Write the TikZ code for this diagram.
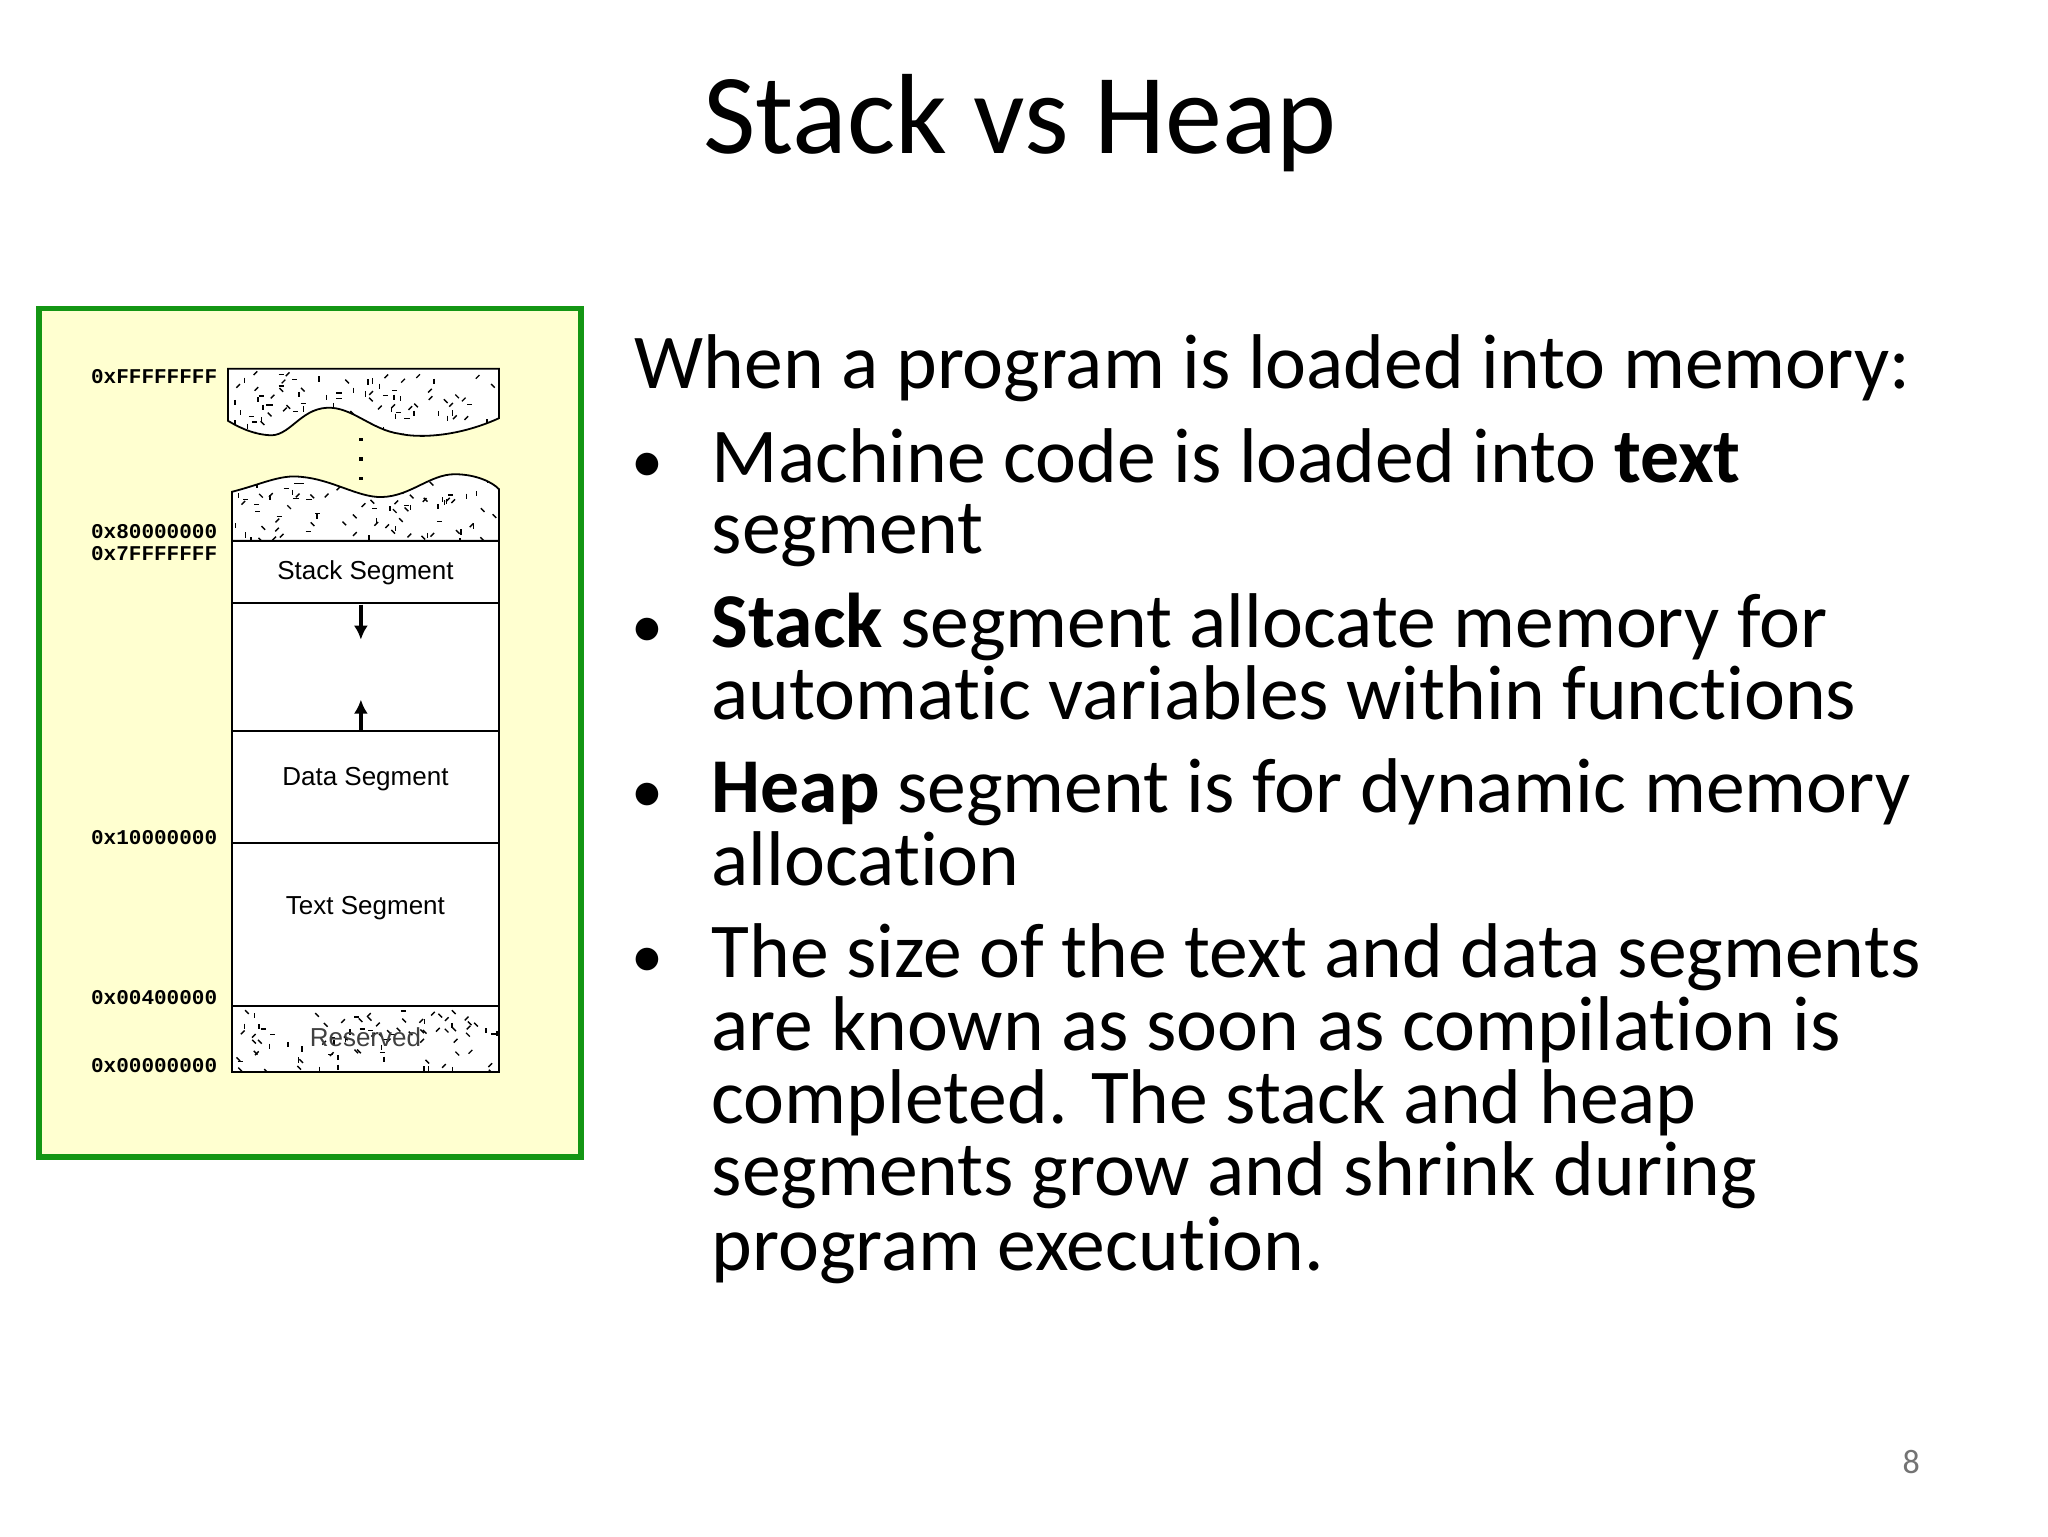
\documentclass[tikz,border=0pt]{standalone}
\usepackage{fontspec}
\usetikzlibrary{arrows.meta}
\setmainfont[Ligatures=NoCommon]{Carlito}
\newfontfamily\addrfont{Liberation Mono}
\newfontfamily\segfont{Liberation Sans}
\definecolor{frameg}{RGB}{20,150,20}
\definecolor{frameyel}{RGB}{255,255,208}
\tikzset{
  body/.style={anchor=base west,inner sep=0pt,font=\fontsize{38.8}{40}\selectfont},
  addr/.style={anchor=base east,inner sep=0pt,font=\addrfont\bfseries\fontsize{10.5}{11}\selectfont},
  seg/.style={inner sep=0pt,font=\segfont\fontsize{13}{13}\selectfont},
  speck/.style={line width=0.7pt},
}
\newcommand{\speckles}[4]{% x1 y1 x2 y2
  \pgfmathsetseed{#1#2}
  \foreach \k in {1,...,90}{
    \pgfmathsetmacro{\px}{#1+rnd*(#3-#1)}
    \pgfmathsetmacro{\py}{#2+rnd*(#4-#2)}
    \pgfmathsetmacro{\ang}{int(rnd*4)*45}
    \draw[speck] (\px,\py) -- ++(\ang:4);
  }}
\begin{document}
\begin{tikzpicture}[x=0.6514pt,y=-0.6514pt]
\useasboundingbox[fill=white] (0,0) rectangle (1572,1179);
\node[font=\fontsize{57}{57}\selectfont,anchor=base,inner sep=0pt] (title) at (783,118) {Stack vs Heap};
% frame
\draw[frameg,line width=2.6pt,fill=frameyel] (30,237) rectangle (446,888);
% top broken block
\begin{scope}
\path[clip] (175,283) -- (383,283) -- (383,321) .. controls (350,336) and (320,336) .. (307,333) .. controls (285,330) and (270,312) .. (251,313) .. controls (230,314) and (222,336) .. (206,334) .. controls (192,333) and (180,326) .. (175,323) -- cycle;
\fill[white] (170,280) rectangle (390,340);
\speckles{178}{285}{380}{335}
\end{scope}
\draw[line width=0.9pt] (175,283) -- (383,283) -- (383,321) .. controls (350,336) and (320,336) .. (307,333) .. controls (285,330) and (270,312) .. (251,313) .. controls (230,314) and (222,336) .. (206,334) .. controls (192,333) and (180,326) .. (175,323) -- cycle;
% dots
\foreach \yy in {336,351,366} \fill (275.5,\yy) rectangle (278.5,\yy+2.5);
% second block
\begin{scope}
\path[clip] (178,415) -- (178,377.5) .. controls (200,372) and (215,364) .. (231,366) .. controls (255,368) and (275,382) .. (293,381.5) .. controls (315,381) and (330,364) .. (349,364) .. controls (365,364) and (378,370) .. (383,375.5) -- (383,415) -- cycle;
\fill[white] (170,360) rectangle (390,420);
\speckles{180}{366}{381}{413}
\end{scope}
\draw[line width=0.9pt] (178,415) -- (178,377.5) .. controls (200,372) and (215,364) .. (231,366) .. controls (255,368) and (275,382) .. (293,381.5) .. controls (315,381) and (330,364) .. (349,364) .. controls (365,364) and (378,370) .. (383,375.5) -- (383,415) -- cycle;
% segments
\draw[line width=0.9pt,fill=white] (178,415) rectangle (383,463);
\node[seg] (stack) at (280.5,440) {Stack Segment};
\draw[line width=0.9pt,fill=white] (178,463) rectangle (383,561);
\draw[line width=0.9pt,fill=white] (178,561) rectangle (383,647);
\node[seg] (data) at (280.5,598) {Data Segment};
\draw[line width=0.9pt,fill=white] (178,647) rectangle (383,772);
\node[seg] (text) at (280.5,697) {Text Segment};
\begin{scope}
\clip (178,772) rectangle (383,823);
\fill[white] (178,772) rectangle (383,823);
\speckles{179}{774}{382}{822}
\end{scope}
\draw[line width=0.9pt] (178,772) rectangle (383,823);
\node[seg,text=black!75] (res) at (280.5,796) {Reserved};
\coordinate (d1) at (277,464); \coordinate (d2) at (277,491);
\coordinate (u1) at (277,561); \coordinate (u2) at (277,537);
\draw[line width=1.8pt,-{Latex[length=7pt,width=7pt]}] (d1) -- (d2);
\draw[line width=1.8pt,-{Latex[length=7pt,width=7pt]}] (u1) -- (u2);
% addresses
\node[addr] (a1) at (167,294) {0xFFFFFFFF};
\node[addr] (a2) at (167,413) {0x80000000};
\node[addr] (a3) at (167,430) {0x7FFFFFFF};
\node[addr] (a4) at (167,648) {0x10000000};
\node[addr] (a5) at (167,771) {0x00400000};
\node[addr] (a6) at (167,823) {0x00000000};
% body text
\node[body] (l0) at (487,298) {When a program is loaded into memory:};
\foreach \yy in {370,497,624,750} \node[body,anchor=base,font=\fontsize{32}{32}\selectfont] at (497,\yy) {•};
\node[body] (l1) at (546,370) {Machine code is loaded into \textbf{text}};
\node[body] (l2) at (546,425) {segment};
\node[body] (l3) at (546,497) {\textbf{Stack} segment allocate memory for};
\node[body] (l4) at (546,552) {automatic variables within functions};
\node[body] (l5) at (546,624) {\textbf{Heap} segment is for dynamic memory};
\node[body] (l6) at (546,680) {allocation};
\node[body] (l7) at (546,750) {The size of the text and data segments};
\node[body] (l8) at (546,806) {are known as soon as compilation is};
\node[body] (l9) at (546,862) {completed. The stack and heap};
\node[body] (l10) at (546,918) {segments grow and shrink during};
\node[body] (l11) at (546,975) {program execution.};
\node[font=\fontsize{17}{17}\selectfont,text=black!55,inner sep=0pt] (pg) at (1467,1122) {8};
\end{tikzpicture}
\end{document}
